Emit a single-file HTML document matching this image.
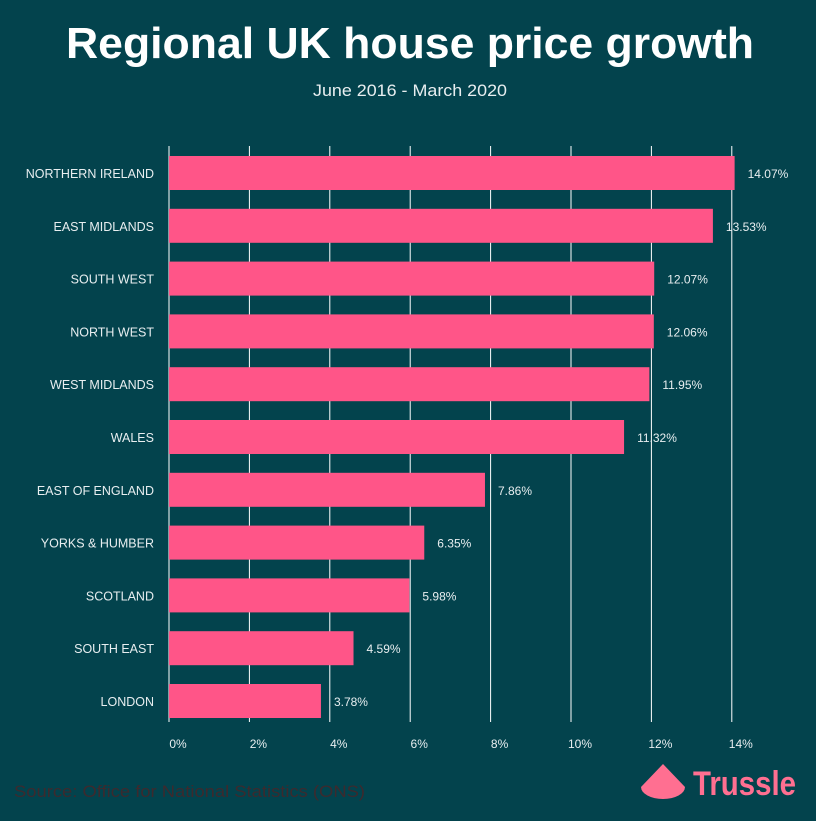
<!DOCTYPE html>
<html><head><meta charset="utf-8"><style>
body{margin:0;background:#03434d;width:816px;height:816px;overflow:hidden;font-family:"Liberation Sans",sans-serif}
</style></head><body>
<svg width="816" height="816" xmlns="http://www.w3.org/2000/svg">
<rect width="816" height="816" fill="#03434d"/>
<text x="410" y="58" text-anchor="middle" fill="#fff" font-size="44" font-weight="bold" textLength="688" lengthAdjust="spacingAndGlyphs">Regional UK house price growth</text>
<text x="410" y="96" text-anchor="middle" fill="#e8eef0" font-size="17" textLength="194" lengthAdjust="spacingAndGlyphs">June 2016 - March 2020</text>
<g id="grid"></g><g id="bars"></g><g id="xt"></g>
<text x="14" y="797" fill="#3d2a2e" font-size="17" textLength="351" lengthAdjust="spacingAndGlyphs">Source: Office for National Statistics (ONS)</text>
<g>
<path d="M663 764 L641 787 A22 12 0 0 0 685 787 Z" fill="#ff6f91"/>
<text x="693" y="795" fill="#ff6f91" font-size="34" font-weight="bold" textLength="103" lengthAdjust="spacingAndGlyphs">Trussle</text>
</g>
</svg>
<script>
const categories=["NORTHERN IRELAND","EAST MIDLANDS","SOUTH WEST","NORTH WEST","WEST MIDLANDS","WALES","EAST OF ENGLAND","YORKS & HUMBER","SCOTLAND","SOUTH EAST","LONDON"];
const values=[14.07,13.53,12.07,12.06,11.95,11.32,7.86,6.35,5.98,4.59,3.78];
const ticks=[0,2,4,6,8,10,12,14];
const NS="http://www.w3.org/2000/svg";
const x=v=>169+v*40.2;
const y=i=>173+i*52.8;
function mk(t,a,p,txt){const e=document.createElementNS(NS,t);for(const k in a)e.setAttribute(k,a[k]);if(txt!=null)e.textContent=txt;document.getElementById(p).appendChild(e);return e;}
ticks.forEach(t=>{
 const l=mk("line",{x1:x(t),x2:x(t),y1:146,y2:722,stroke:"#fff","stroke-width":1},"grid");
 
 
 const tx=mk("text",{x:x(t)+9,y:748,"text-anchor":"middle",fill:"#e8eef0","font-size":12},"xt",t+"%");
 
 
});
categories.forEach((c,i)=>{
 const r=mk("rect",{x:x(0),y:y(i)-17,width:x(values[i])-x(0),height:34,fill:"#ff5588"},"bars");
 
 
 const lb=mk("text",{x:154,y:y(i)+5,"text-anchor":"end",fill:"#e8eef0","font-size":12.5},"bars",c);
 
 
 const v=mk("text",{x:x(values[i])+13,y:y(i)+5,fill:"#e8eef0","font-size":12},"bars",values[i].toFixed(2)+"%");
 
 
});
</script>
</body></html>
